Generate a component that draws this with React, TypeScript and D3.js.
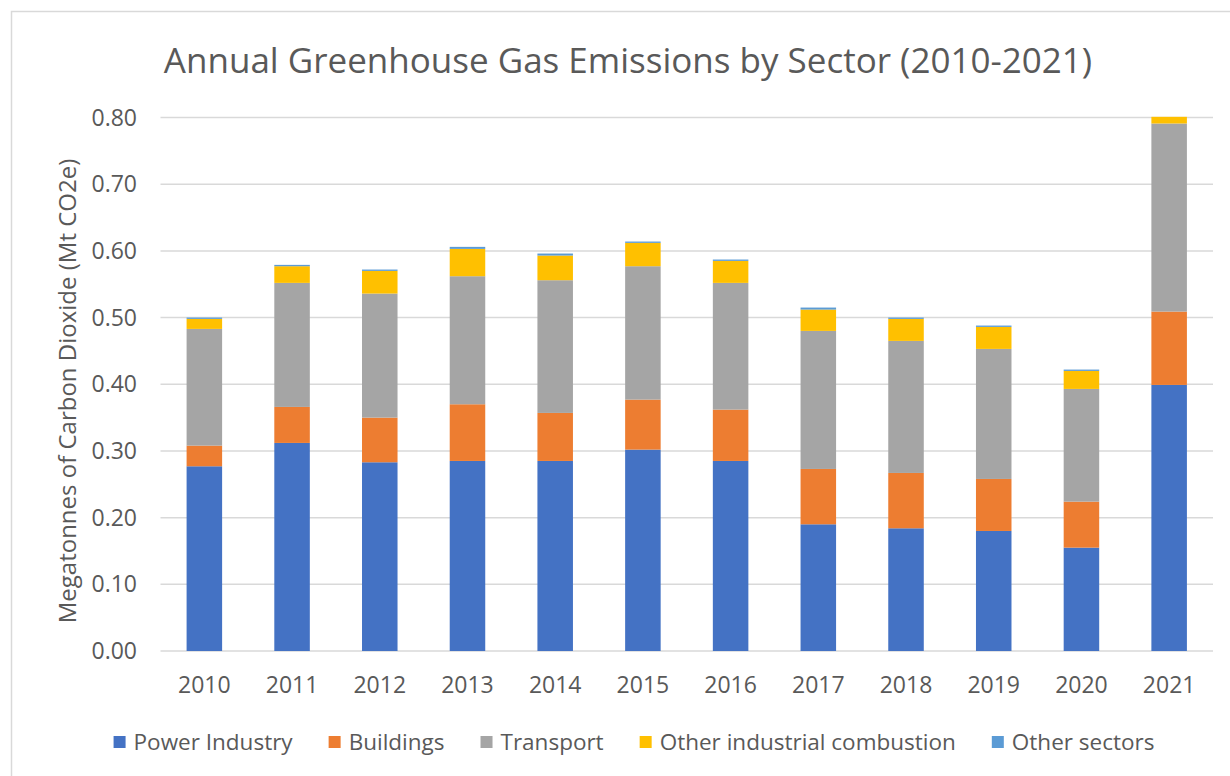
import React, { useEffect, useRef } from "react";
import * as d3 from "d3";

const years = ["2010", "2011", "2012", "2013", "2014", "2015", "2016", "2017", "2018", "2019", "2020", "2021"];
const sectors = ["Power Industry", "Buildings", "Transport", "Other industrial combustion", "Other sectors"];
const colors = ["#4472C4", "#ED7D31", "#A5A5A5", "#FFC000", "#5B9BD5"];

const powerIndustry = [0.277, 0.312, 0.283, 0.285, 0.285, 0.302, 0.285, 0.190, 0.184, 0.180, 0.155, 0.399];
const buildings = [0.031, 0.054, 0.067, 0.085, 0.072, 0.075, 0.077, 0.083, 0.083, 0.078, 0.069, 0.110];
const transport = [0.175, 0.186, 0.186, 0.192, 0.199, 0.200, 0.190, 0.207, 0.198, 0.195, 0.169, 0.282];
const otherIndustrial = [0.015, 0.025, 0.034, 0.041, 0.037, 0.035, 0.033, 0.032, 0.033, 0.033, 0.027, 0.010];
const otherSectors = [0.002, 0.002, 0.002, 0.003, 0.003, 0.002, 0.002, 0.003, 0.002, 0.002, 0.002, 0.0];

const yTicks = [0, 0.1, 0.2, 0.3, 0.4, 0.5, 0.6, 0.7, 0.8];

const W = 1230;
const H = 776;
const FONT = "'Open Sans', sans-serif";
const TEXT = "#595959";
const GRID = "#D9D9D9";

const App = () => {
  const svgRef = useRef(null);

  useEffect(() => {
    const svg = d3.select(svgRef.current);
    svg.selectAll("*").remove();

    const rows = years.map((yr, i) => ({
      year: yr,
      "Power Industry": powerIndustry[i],
      Buildings: buildings[i],
      Transport: transport[i],
      "Other industrial combustion": otherIndustrial[i],
      "Other sectors": otherSectors[i],
    }));
    const series = d3.stack().keys(sectors)(rows);

    const x = d3
      .scaleBand()
      .domain(years)
      .range([160.5, 1213])
      .paddingInner(0.595)
      .paddingOuter(0.2975);
    const y = d3.scaleLinear().domain([0, 0.8]).range([651, 117.5]);
    const color = d3.scaleOrdinal().domain(sectors).range(colors);

    // outer frame (right/bottom edges fall off the picture)
    svg
      .append("rect")
      .attr("x", 11.5)
      .attr("y", 11.5)
      .attr("width", 1240)
      .attr("height", 800)
      .attr("fill", "#fff")
      .attr("stroke", GRID)
      .attr("stroke-width", 1.5);

    // title
    svg
      .append("text")
      .attr("x", 628)
      .attr("y", 73)
      .attr("text-anchor", "middle")
      .style("font-family", FONT)
      .style("font-size", "35px")
      .style("fill", TEXT)
      .text("Annual Greenhouse Gas Emissions by Sector (2010-2021)");

    // gridlines
    svg
      .append("g")
      .selectAll("line")
      .data(yTicks)
      .enter()
      .append("line")
      .attr("x1", 160.5)
      .attr("x2", 1213)
      .attr("y1", (d) => y(d))
      .attr("y2", (d) => y(d))
      .attr("stroke", GRID)
      .attr("stroke-width", 1.5);

    // y tick labels
    svg
      .append("g")
      .selectAll("text")
      .data(yTicks)
      .enter()
      .append("text")
      .attr("x", 137)
      .attr("y", (d) => y(d))
      .attr("dy", "0.35em")
      .attr("text-anchor", "end")
      .style("font-family", FONT)
      .style("font-size", "23px")
      .style("fill", TEXT)
      .text((d) => d3.format(".2f")(d));

    // y axis title
    svg
      .append("text")
      .attr("transform", "translate(76,391) rotate(-90)")
      .attr("text-anchor", "middle")
      .style("font-family", FONT)
      .style("font-size", "24px")
      .style("fill", TEXT)
      .text("Megatonnes of Carbon Dioxide (Mt CO2e)");

    // stacked bars
    svg
      .append("g")
      .selectAll("g")
      .data(series)
      .enter()
      .append("g")
      .attr("fill", (d) => color(d.key))
      .selectAll("rect")
      .data((d) => d)
      .enter()
      .append("rect")
      .attr("x", (d) => x(d.data.year))
      .attr("y", (d) => y(d[1]))
      .attr("width", x.bandwidth())
      .attr("height", (d) => Math.max(0, y(d[0]) - y(d[1])));

    // x labels
    svg
      .append("g")
      .selectAll("text")
      .data(years)
      .enter()
      .append("text")
      .attr("x", (d) => x(d) + x.bandwidth() / 2)
      .attr("y", 693)
      .attr("text-anchor", "middle")
      .style("font-family", FONT)
      .style("font-size", "23px")
      .style("fill", TEXT)
      .text((d) => d);

    // legend, laid out from measured text widths and centred
    const legend = svg.append("g");
    const items = legend
      .selectAll("g")
      .data(sectors)
      .enter()
      .append("g");
    items
      .append("rect")
      .attr("y", 736)
      .attr("width", 12)
      .attr("height", 12)
      .attr("fill", (d) => color(d));
    items
      .append("text")
      .attr("x", 20)
      .attr("y", 750)
      .style("font-family", FONT)
      .style("font-size", "22.5px")
      .style("fill", TEXT)
      .text((d) => d);

    let offset = 0;
    items.each(function () {
      const g = d3.select(this);
      const w = g.select("text").node().getComputedTextLength() + 20;
      g.attr("transform", `translate(${offset},0)`);
      offset += w + 36;
    });
    const total = offset - 36;
    legend.attr("transform", `translate(${634 - total / 2},0)`);
  }, []);

  return (
    <svg
      ref={svgRef}
      width={W}
      height={H}
      style={{ position: "absolute", left: 0, top: 0 }}
    ></svg>
  );
};

export default App;
